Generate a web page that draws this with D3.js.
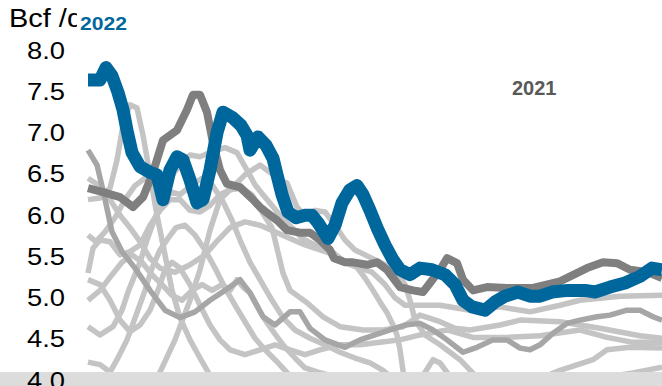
<!DOCTYPE html>
<html>
<head>
<meta charset="utf-8">
<script src="https://cdn.jsdelivr.net/npm/d3@7"></script>
<style>
  html, body { margin: 0; padding: 0; background: #fff; }
  svg { display: block; }
  text { font-family: "Liberation Sans", Arial, sans-serif; }
</style>
</head>
<body>
<svg id="chart" width="662" height="386"></svg>
<script>
// Daily throughput, Bcf/d, by day of year: [day, value]
const yTicks = [4.0, 4.5, 5.0, 5.5, 6.0, 6.5, 7.0, 7.5, 8.0];
const unitLabel = "Bcf /d";

const series2022 = [[0,7.60],[6,7.60],[9,7.75],[12,7.65],[15,7.45],[17.5,7.24],[19.5,6.99],[22,6.72],[26,6.55],[31,6.48],[34.5,6.45],[36,6.30],[37.5,6.15],[41,6.51],[44.5,6.67],[47.5,6.63],[51,6.39],[54.5,6.11],[57.5,6.15],[61,6.51],[64.5,6.96],[67.5,7.21],[72.5,7.14],[76.5,7.05],[79.5,6.93],[81,6.75],[85,6.91],[89,6.81],[92.5,6.65],[94.5,6.45],[97,6.21],[100,6.00],[104,5.93],[108.5,5.96],[112,5.96],[115,5.87],[120,5.68],[123.5,5.84],[127,6.11],[131,6.27],[134.5,6.32],[137.5,6.21],[141,6.02],[144.5,5.81],[148.5,5.60],[152.5,5.42],[156,5.30],[161,5.24],[166,5.32],[172,5.30],[178.5,5.24],[183.5,5.12],[187.5,4.93],[192,4.85],[198.5,4.81],[203.5,4.91],[208.5,4.98],[215,5.03],[221,4.98],[226,4.98],[232,5.03],[240,5.05],[248.5,5.05],[253.5,5.03],[261,5.09],[268.5,5.14],[276,5.22],[282,5.32],[287,5.30]];

const series2021 = [[0,6.29],[7.5,6.24],[16,6.18],[22.5,6.06],[27.5,6.18],[32.5,6.48],[37.5,6.87],[44.5,6.99],[49.5,7.24],[52.5,7.42],[56,7.42],[59.5,7.21],[62.5,6.84],[66,6.51],[69.5,6.34],[76,6.30],[82.5,6.15],[86,6.06],[89.5,5.99],[94.5,5.90],[99.5,5.78],[106,5.75],[111,5.75],[116,5.66],[121,5.54],[123,5.44],[128.5,5.39],[132.5,5.39],[139.5,5.36],[144.5,5.39],[149.5,5.30],[156,5.09],[162.5,5.05],[167.5,5.03],[171,5.14],[176,5.30],[179.5,5.44],[184.5,5.38],[187.5,5.18],[192.5,5.05],[199.5,5.09],[209.5,5.08],[222.5,5.08],[236,5.16],[249.5,5.32],[257.5,5.39],[264.5,5.38],[271,5.30],[280,5.27],[287,5.20]];

// Earlier years (unlabelled history)
const histA = [[0,6.15],[6,6.17],[11,6.29],[14.5,6.63],[17.5,7.05],[21,7.30],[24.5,7.26],[27.5,6.93],[31,6.45],[34.5,5.96],[38.5,5.48],[42,5.05],[46,4.72],[51,4.45],[56,4.23],[61,4.02],[67,3.78],[86,3.48],[196,3.48],[206,3.78],[221,3.93],[236,4.08],[252.5,4.21],[259.5,4.33],[271,4.36],[287,4.35]];
const histB = [[0,5.72],[4,5.64],[8.5,5.76],[13.5,5.93],[18.5,6.15],[23.5,6.32],[28.5,6.41],[35,6.39],[41,6.41],[46,6.57],[51,6.69],[56,6.67],[62,6.73],[68.5,6.78],[74.5,6.72],[79,6.53],[83.5,6.33],[87.5,6.21],[92,6.08],[97,5.93],[102,5.81],[107,5.68],[113.5,5.60],[121,5.54],[128.5,5.39],[136,5.32],[142,5.27],[148.5,5.12],[153.5,4.96],[158.5,4.87],[166,4.87],[176,4.87],[191,4.81],[206,4.85],[221,4.79],[236,4.87],[246,4.93],[266,4.98],[287,4.99]];
const histC = [[0,5.26],[2.5,5.56],[6,5.66],[11,5.64],[16,5.48],[21,5.52],[26,5.60],[31,5.84],[36,6.02],[41,6.15],[46,6.15],[51,6.02],[56,6.00],[61,6.08],[66,6.21],[71,6.27],[77,6.29],[82,6.21],[87,6.00],[92,5.81],[97.5,5.26],[101,5.05],[109.5,4.90],[117.5,4.73],[126,4.61],[137.5,4.57],[147.5,4.57],[157.5,4.61],[166,4.75],[176,4.67],[183.5,4.59],[191,4.57],[206,4.63],[216,4.69],[236,4.67],[256,4.59],[276,4.50],[287,4.47]];
const histD = [[0,6.75],[4.5,6.57],[8,6.21],[12,5.76],[17,5.52],[23.5,5.32],[31,5.05],[38.5,4.81],[46,4.72],[53.5,4.79],[61,4.93],[68.5,5.05],[76,5.18],[81,5.02],[87.5,4.73],[93.5,4.63],[101,4.79],[106,4.79],[111,4.59],[118.5,4.45],[128.5,4.36],[136,4.45],[143.5,4.51],[151,4.57],[158.5,4.63],[166,4.65],[172.5,4.57],[179.5,4.45],[187.5,4.30],[194.5,4.36],[202.5,4.45],[209.5,4.45],[216,4.35],[221,4.33],[226,4.39],[232.5,4.53],[239.5,4.65],[246,4.69],[254.5,4.73],[261,4.75],[269.5,4.81],[276,4.81],[282.5,4.73],[287,4.69]];
const histE = [[0,4.61],[6,4.51],[12.5,4.61],[17,4.81],[20,5.03],[22.5,5.18],[26,5.39],[29.5,5.66],[33.5,5.93],[37.5,6.15],[42,6.24],[46,6.21],[52,6.33],[57,6.41],[62,6.33],[67,6.15],[72,5.90],[76,5.66],[81,5.39],[86,5.18],[92,4.93],[97.5,4.72],[103.5,4.57],[111,4.47],[118.5,4.39],[126,4.30],[133.5,4.23],[141,4.17],[147.5,4.08],[153.5,3.96],[161,3.82],[166,3.96],[172.5,4.21],[176,4.17],[182.5,3.96],[188.5,3.78]];
const histF = [[0,4.18],[6,4.15],[11,4.06],[14.5,4.21],[19.5,4.45],[24.5,4.78],[28.5,5.05],[32,5.32],[36,5.54],[40,5.68],[44,5.81],[48.5,5.84],[53.5,5.72],[58.5,5.54],[63.5,5.32],[68.5,5.08],[73.5,4.87],[78.5,4.67],[83.5,4.47],[88.5,4.33],[93.5,4.21],[98.5,4.08],[105,3.90],[116,3.72],[206,3.60],[216,3.72],[226,3.84],[236,3.96],[259.5,4.00],[272.5,4.05],[287,4.12]];
const histG = [[0,4.93],[6,5.05],[12,5.24],[17,5.39],[22,5.48],[27,5.39],[32,5.24],[37,5.12],[42,4.99],[47,4.93],[52,5.05],[57,5.12],[62,5.05],[67,5.12],[71,5.05],[74.5,5.18],[77.5,5.09],[81,5.02],[87.5,4.73],[92,4.57],[97.5,4.39],[103.5,4.23],[108.5,4.11],[115,4.06],[121,4.02],[128.5,3.99],[136,3.93],[146,3.82]];
const histH = [[0,6.41],[5,6.33],[11,6.15],[16,5.96],[21,5.81],[26,5.64],[31,5.44],[36,5.32],[43.5,5.27],[51,5.36],[58.5,5.48],[65,5.66],[71,5.81],[78.5,5.88],[86,5.84],[93.5,5.76],[101,5.68],[108.5,5.60],[116,5.54],[123.5,5.48],[129.5,5.38],[134.5,5.33],[138.5,5.20],[142.5,5.05],[146,4.91],[149.5,4.78],[152.5,4.63],[154.5,4.51],[156,4.33],[157.5,4.08],[159,3.82]];
const histI = [[0,5.18],[6,5.12],[11,4.93],[16,4.69],[21,4.55],[26,4.63],[31,4.81],[35,5.05],[38.5,5.30],[42,5.39],[46,5.32],[51,5.12],[56,4.87],[61,4.63],[66,4.45],[71,4.33],[78.5,4.27],[86,4.33],[93.5,4.39],[101,4.33],[108.5,4.27],[116,4.33],[126,4.39],[136,4.39],[146,4.42],[156,4.45],[166,4.51],[179.5,4.57],[192.5,4.48],[209.5,4.48],[226,4.50],[246,4.57],[259.5,4.48],[272.5,4.42],[287,4.42]];
const histK = [[0,3.84],[21,3.78],[31,3.90],[36,4.06],[43.5,4.45],[51,4.93],[56,5.30],[61,5.78],[66,6.15],[71,6.27],[78.5,6.45],[86,6.57],[91,6.48],[96,6.39],[99.5,6.35],[104.5,6.06],[108.5,5.96],[113.5,6.02],[118.5,6.00],[123.5,5.84],[128.5,5.66],[133.5,5.54],[138.5,5.48],[146,5.39],[153.5,5.30],[158.5,5.12],[161,4.93],[163.5,4.69],[168.5,4.51],[176,4.39],[186,4.21],[193.5,4.02],[201,3.78]];

const lightHistory = [histA, histB, histC, histE, histF, histG, histH, histI, histK];
const midHistory = [histD];

const svg = d3.select("#chart");
const W = 662, H = 386;

const x = d3.scaleLinear().domain([0, 287]).range([88, 662]);
const y = d3.scaleLinear().domain([4, 8]).range([377, 47]);

const line = d3.line()
  .x(d => x(d[0]))
  .y(d => y(d[1]))
  .curve(d3.curveLinear);

const plot = svg.append("g");

function drawSeries(data, color, width) {
  plot.append("path")
    .datum(data)
    .attr("d", line)
    .attr("fill", "none")
    .attr("stroke", color)
    .attr("stroke-width", width)
    .attr("stroke-linejoin", "round")
    .attr("stroke-linecap", "butt");
}

lightHistory.forEach(s => drawSeries(s, "#c4c4c4", 5.5));
midHistory.forEach(s => drawSeries(s, "#a6a6a6", 5.5));
drawSeries(series2021, "#7f7f7f", 8);
drawSeries(series2022, "#00679c", 13);

// bottom band
svg.append("rect")
  .attr("x", 0).attr("y", 372)
  .attr("width", W).attr("height", H - 372)
  .attr("fill", "#dcdcdc");

// y axis labels
const yAxis = d3.axisLeft(y)
  .tickValues(yTicks)
  .tickFormat(d3.format(".1f"))
  .tickSize(0)
  .tickPadding(0);

const axisG = svg.append("g")
  .attr("transform", "translate(65,0)")
  .call(yAxis);
axisG.select(".domain").remove();
axisG.selectAll("text")
  .attr("dy", "0.48em")
  .attr("fill", "#000")
  .style("font-family", "'Liberation Sans', Arial, sans-serif")
  .style("font-size", "23px")
  .attr("textLength", 38)
  .attr("lengthAdjust", "spacingAndGlyphs");

// unit label (its tail sits under the 2022 tag)
svg.append("text")
  .attr("x", 9).attr("y", 27)
  .attr("fill", "#000")
  .style("font-size", "25px")
  .attr("textLength", 74)
  .attr("lengthAdjust", "spacingAndGlyphs")
  .text(unitLabel);

// series labels
svg.append("rect")
  .attr("x", 77).attr("y", 0)
  .attr("width", 58).attr("height", 36)
  .attr("fill", "#fff");
svg.append("text")
  .attr("x", 80).attr("y", 30)
  .attr("fill", "#00679c")
  .style("font-size", "19px")
  .style("font-weight", "bold")
  .attr("textLength", 47)
  .attr("lengthAdjust", "spacingAndGlyphs")
  .text("2022");
svg.append("text")
  .attr("x", 512).attr("y", 95)
  .attr("fill", "#595959")
  .style("font-size", "20px")
  .style("font-weight", "bold")
  .text("2021");
</script>
</body>
</html>
